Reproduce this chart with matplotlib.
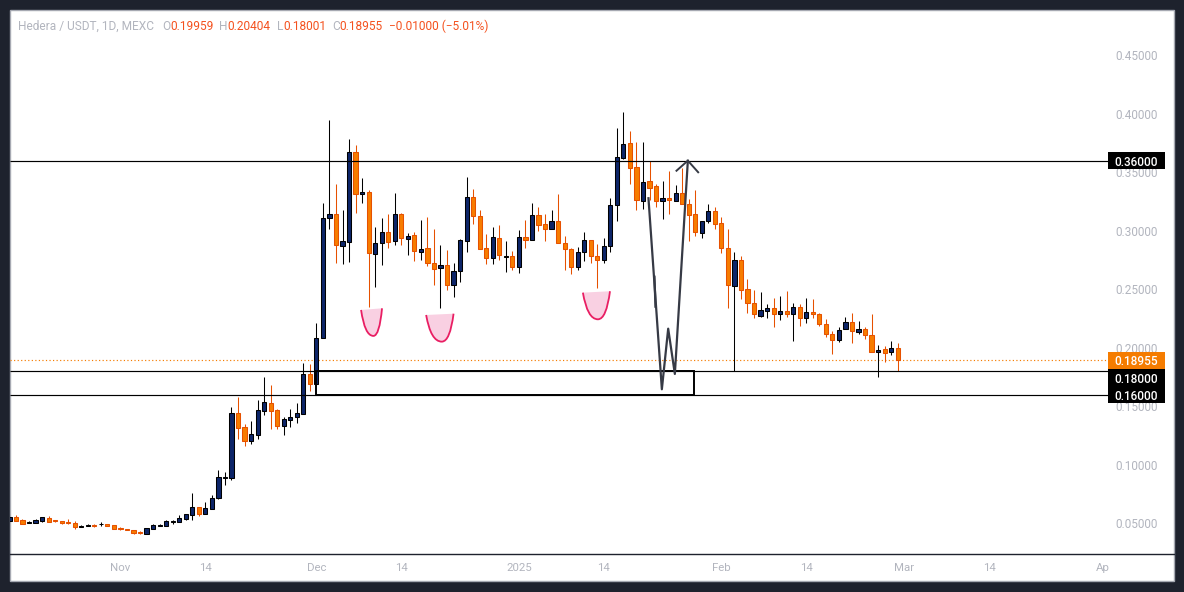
import matplotlib
matplotlib.use('Agg')
import matplotlib.pyplot as plt
from matplotlib.patches import Rectangle, PathPatch
from matplotlib.path import Path

plt.rcParams['font.family'] = ['Roboto', 'Liberation Sans', 'DejaVu Sans']

# daily candles, index 0 is 15 Oct 2024
opens = [.0524,.0553,.0527,.0507,.0507,.0524,.0550,.0527,.0518,.0513,.0501,.0473,.0482,.0487,.0493,.0493,.0484,.0462,.0450,.0442,
         .0428,.0413,.0456,.0482,.0482,.0516,.0516,.0541,.0576,.0638,.0584,.0627,.0715,.0892,.0892,.1442,.1322,.1208,.1259,.1464,
         .1527,.1467,.1336,.1387,.1413,.1439,.1775,.1695,.2083,.3108,.3142,.2869,.2903,.3672,.3313,.3330,.2801,.2895,.2989,.2912,
         .3142,.2934,.2963,.2823,.2852,.2724,.2681,.2707,.2536,.2655,.2912,.3288,.3125,.2852,.2766,.2937,.2781,.2783,.2689,.2946,
         .2920,.3134,.3057,.3014,.3083,.2895,.2843,.2689,.2823,.2920,.2783,.2749,.2869,.3219,.3627,.3749,.3544,.3259,.3425,.3382,
         .3259,.3279,.3259,.3322,.3228,.3142,.2986,.3088,.3168,.3066,.2852,.2527,.2749,.2501,.2382,.2276,.2319,.2339,.2288,.2313,
         .2288,.2348,.2259,.2305,.2288,.2202,.2117,.2066,.2160,.2219,.2140,.2160,.2108,.1963,.1989,.1963,.19959]
highs = [.0581,.0570,.0536,.0521,.0538,.0553,.0564,.0527,.0518,.0538,.0521,.0487,.0499,.0499,.0513,.0493,.0484,.0473,.0450,.0442,
         .0439,.0459,.0493,.0499,.0527,.0533,.0573,.0578,.0761,.0638,.0684,.0744,.0957,.0940,.1496,.1581,.1351,.1376,.1556,.1752,
         .1684,.1479,.1410,.1479,.1530,.1872,.1863,.2211,.3236,.3949,.3402,.3179,.3786,.3735,.3450,.3350,.3034,.3111,.3145,.3325,
         .3151,.2983,.2992,.3094,.3120,.3017,.2880,.2838,.2724,.2929,.3462,.3359,.3179,.2974,.3034,.3051,.2915,.2832,.3009,.3094,
         .3239,.3205,.3145,.3179,.3316,.2957,.2855,.2863,.2992,.2920,.2889,.2940,.3282,.3880,.4017,.3852,.3758,.3758,.3601,.3402,
         .3427,.3513,.3390,.3536,.3273,.3350,.3083,.3231,.3205,.3120,.3017,.2818,.2786,.2590,.2496,.2479,.2373,.2427,.2444,.2487,
         .2382,.2376,.2427,.2419,.2299,.2248,.2142,.2177,.2265,.2299,.2231,.2177,.2291,.2026,.2017,.2060,.20404]
lows = [.0524,.0524,.0499,.0504,.0507,.0513,.0513,.0513,.0496,.0496,.0453,.0470,.0479,.0470,.0479,.0479,.0453,.0444,.0444,.0410,
        .0410,.0413,.0453,.0479,.0482,.0496,.0513,.0530,.0530,.0564,.0584,.0627,.0712,.0829,.0872,.1222,.1162,.1180,.1222,.1427,
        .1308,.1308,.1256,.1325,.1359,.1439,.1633,.1695,.2083,.3020,.2729,.2721,.2738,.3157,.3242,.2353,.2524,.2712,.2858,.2883,
        .2883,.2798,.2746,.2752,.2704,.2541,.2345,.2499,.2439,.2567,.2823,.3063,.2843,.2721,.2721,.2755,.2652,.2669,.2644,.2858,
        .2920,.3003,.2917,.3014,.2895,.2667,.2635,.2669,.2746,.2729,.2516,.2729,.2823,.3088,.3612,.3405,.3182,.3191,.3265,.3208,
        .3105,.3148,.3259,.3234,.2917,.2960,.2943,.3071,.3017,.2815,.2345,.1803,.2419,.2302,.2259,.2268,.2259,.2182,.2242,.2268,
        .2063,.2191,.2216,.2259,.2191,.2097,.1952,.2049,.2160,.2046,.2122,.2080,.1963,.1755,.1883,.1940,.18001]
closes = [.0556,.0524,.0499,.0513,.0527,.0553,.0516,.0521,.0507,.0507,.0473,.0479,.0487,.0482,.0499,.0482,.0456,.0456,.0447,.0422,
          .0422,.0459,.0484,.0487,.0518,.0521,.0544,.0578,.0638,.0584,.0630,.0715,.0895,.0898,.1442,.1319,.1208,.1262,.1467,.1536,
          .1464,.1336,.1390,.1407,.1442,.1775,.1695,.2083,.3108,.3142,.2877,.2912,.3672,.3313,.3330,.2809,.2895,.2989,.2909,.3142,
          .2937,.2954,.2826,.2843,.2729,.2672,.2707,.2536,.2655,.2920,.3288,.3125,.2843,.2766,.2946,.2792,.2786,.2689,.2946,.2920,
          .3134,.3048,.3014,.3083,.2895,.2843,.2689,.2818,.2920,.2783,.2749,.2869,.3219,.3630,.3741,.3541,.3262,.3416,.3370,.3259,
          .3279,.3268,.3322,.3234,.3140,.2989,.3083,.3168,.3063,.2852,.2536,.2749,.2499,.2382,.2288,.2322,.2339,.2288,.2313,.2288,
          .2348,.2254,.2305,.2288,.2202,.2117,.2066,.2151,.2219,.2142,.2160,.2108,.1963,.1980,.1954,.1997,.18955]

price_ticks = [0.05, 0.10, 0.15, 0.20, 0.25, 0.30, 0.35, 0.40, 0.45]
time_ticks = [17, 30, 47, 60, 78, 91, 109, 122, 137, 150, 167.4]
time_labels = ['Nov', '14', 'Dec', '14', '2025', '14', 'Feb', '14', 'Mar', '14', 'Ap']

levels = [0.36, 0.18, 0.16]
last_price = 0.18955
tag_values = [0.36, 0.18955, 0.18, 0.16]
tag_centers = [0.36, 0.18955, 0.1746, 0.16]
tag_colors = ['black', '#f57c00', 'black', 'black']
tag_texts = ['0.36000', '0.18955', '0.18000', '0.16000']

# drawings on the chart, (day, price)
zone_days = [46.95, 104.76]
zone_prices = [0.16, 0.18]
zigzag_days = [97.84, 99.89, 100.86, 101.88, 103.87]
zigzag_prices = [0.3280, 0.1647, 0.2165, 0.1778, 0.3601]
arrow_days = [102.13, 103.87, 105.45]
arrow_prices = [0.3515, 0.3601, 0.3502]
jog_days = [98.76, 98.91]
jog_prices = [0.2609, 0.2353]
cups = [
    [(53.84, .2325), (55.73, .2103), (57.05, .2339)],
    [(63.8, .2282), (66.2, .2054), (68.0, .2293)],
    [(87.8, .2473), (90.1, .2245), (91.95, .2485)],
]

UP = '#0d2569'
DOWN = '#f77c00'
DOWN_EDGE = '#e65100'
GRAY = '#b2b5be'
W, H = 1184, 592
SCALE_X = 168.2  # where the price scale starts
SCALE_END = 176.9

fig = plt.figure(figsize=(W / 100, H / 100), dpi=100, facecolor='#1e222d')
fig.add_artist(Rectangle((10 / W, 1 - 581 / H), 1164 / W, 571 / H, transform=fig.transFigure,
                         facecolor='white', edgecolor='#a6a9b2', linewidth=1, zorder=-1))
ax = fig.add_axes([10 / W, 1 - 554 / H, 1164 / W, 544 / H])
ax.set_xlim(0.09, 178.3)
ax.set_ylim(0.0239, 0.48889)
ax.patch.set_alpha(0)

for s in ['top', 'left', 'right']:
    ax.spines[s].set_visible(False)
ax.spines['bottom'].set_color('#1e222d')
ax.spines['bottom'].set_linewidth(1)

# candles
for i in range(len(opens)):
    up = closes[i] >= opens[i]
    wick = 'black' if up else DOWN_EDGE
    ax.vlines(i, lows[i], highs[i], color=wick, linewidth=0.75, zorder=2)
    ax.bar(i, abs(closes[i] - opens[i]), bottom=min(opens[i], closes[i]), width=0.64,
           color=UP if up else DOWN, edgecolor='black' if up else DOWN_EDGE, linewidth=0.75, zorder=3)

# levels
ax.hlines(levels, 0.09, SCALE_X, color='black', linewidth=0.85, zorder=4)
ax.hlines(last_price, 0.09, SCALE_X, color='#f57c00', linewidth=0.85, linestyles=(0, (1, 2)), zorder=1.8)

ax.add_patch(Rectangle((zone_days[0], zone_prices[0]), zone_days[1] - zone_days[0], zone_prices[1] - zone_prices[0],
                       fill=False, edgecolor='black', linewidth=1.4, zorder=4))

# pink cups
for left, bottom, right in cups:
    verts = [left, (left[0] + 0.3 * (bottom[0] - left[0]), bottom[1]), bottom,
             (bottom[0] + 0.7 * (right[0] - bottom[0]), bottom[1]), right]
    codes = [Path.MOVETO, Path.CURVE3, Path.CURVE3, Path.CURVE3, Path.CURVE3]
    ax.add_patch(PathPatch(Path(verts, codes), facecolor='#f9d0e2', edgecolor='none', zorder=3))
    ax.add_patch(PathPatch(Path(verts, codes), fill=False, edgecolor='#e91e63', linewidth=1.3, zorder=4))

# hand drawn move
ax.plot(zigzag_days, zigzag_prices, color='#363a45', linewidth=1.6, zorder=5)
ax.plot(arrow_days, arrow_prices, color='#363a45', linewidth=1.4, zorder=5)
ax.plot(jog_days, jog_prices, color='#363a45', linewidth=1.6, zorder=5)

# axes labels
ax.set_yticks(price_ticks)
ax.set_yticklabels(['%.5f' % p for p in price_ticks])
ax.yaxis.tick_right()
ax.tick_params(axis='y', length=0, pad=-11.5, labelsize=8.5, labelcolor=GRAY)
for lab in ax.get_yticklabels():
    lab.set_horizontalalignment('right')

ax.set_xticks(time_ticks)
ax.set_xticklabels(time_labels)
ax.tick_params(axis='x', length=0, pad=6.8, labelsize=8.2, labelcolor=GRAY)

# tags on the price scale
tag_h = 0.0143
for value, center, color, txt in zip(tag_values, tag_centers, tag_colors, tag_texts):
    ax.add_patch(Rectangle((SCALE_X, center - tag_h / 2), SCALE_END - SCALE_X, tag_h,
                           facecolor=color, edgecolor='none', zorder=6))
    ax.text(172.55, center, txt, color='white', fontsize=8.5, ha='center', va='center_baseline',
            fontweight='medium', zorder=7)

# legend line at the top
def header(px, txt, color):
    fig.text(px / W, 1 - 25 / H, txt, color=color, fontsize=8.6, ha='left', va='center_baseline')

VAL = '#f4511e'
header(18, 'Hedera / USDT, 1D, MEXC', GRAY)
header(162, 'O', GRAY)
header(170, '0.19959', VAL)
header(219, 'H', GRAY)
header(227, '0.20404', VAL)
header(277, 'L', GRAY)
header(283, '0.18001', VAL)
header(332, 'C', GRAY)
header(339, '0.18955', VAL)
header(389, '\u22120.01000 (\u22125.01%)', VAL)

fig.savefig('out.png', dpi=100, facecolor=fig.get_facecolor())
